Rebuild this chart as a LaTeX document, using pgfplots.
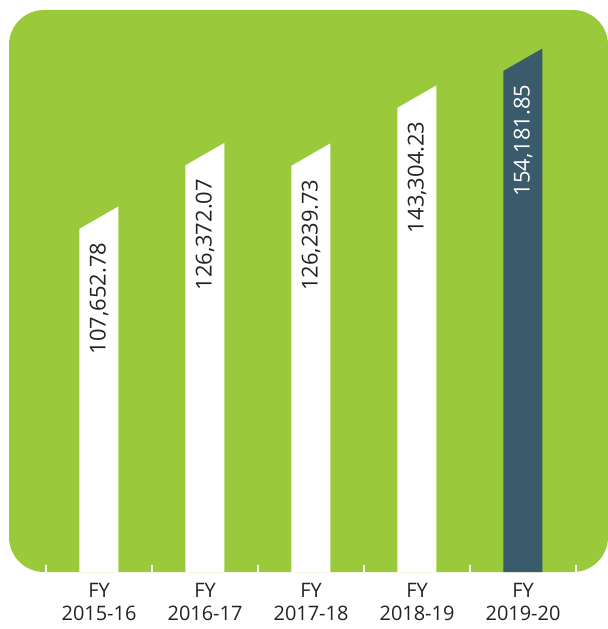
\documentclass[border=0pt]{standalone}
\usepackage{pgfplots}
\pgfplotsset{compat=1.18}
\usepackage{pgfplotstable}
\usepackage{fontspec}
\setmainfont{Open Sans}
\definecolor{pgreen}{HTML}{9BC93C}
\definecolor{pdark}{HTML}{3A5B6B}
\definecolor{ptext}{HTML}{222222}
\pgfplotstableread{
x v label
0 107652.78 107,652.78
1 126372.07 126,372.07
2 126239.73 126,239.73
3 143304.23 143,304.23
}\whitedata
\pgfplotstableread{
x v label
4 154181.85 154,181.85
}\darkdata
\begin{document}
\begin{tikzpicture}
\useasboundingbox (-9bp,-57bp) rectangle (599bp,572bp);
\begin{axis}[
  scale only axis,
  width=599bp, height=562bp,
  at={(0,0)}, anchor=south west,
  xmin=-0.849, xmax=4.802,
  ymin=0, ymax=165500,
  axis on top,
  axis background/.style={fill=pgreen, rounded corners=35bp},
  axis line style={draw=none},
  ytick=\empty,
  xtick={0,1,2,3,4},
  xticklabels={{FY\\2015-16},{FY\\2016-17},{FY\\2017-18},{FY\\2018-19},{FY\\2019-20}},
  xticklabel style={align=center, font=\fontsize{20}{23}\selectfont, text=ptext, yshift=-8bp},
  major tick length=0pt,
  minor xtick={-0.5,0.5,1.5,2.5,3.5,4.5},
  minor tick length=7bp,
  tick align=inside,
  xtick pos=bottom,
  minor tick style={white, line width=1.3bp},
  clip=false,
]
\addplot[fill=white, draw=none] coordinates {(-0.184,0) (-0.184,101052.78) (0.184,107652.78) (0.184,0)} --cycle;
\addplot[fill=white, draw=none] coordinates {(0.816,0) (0.816,119772.07) (1.184,126372.07) (1.184,0)} --cycle;
\addplot[fill=white, draw=none] coordinates {(1.816,0) (1.816,119639.73) (2.184,126239.73) (2.184,0)} --cycle;
\addplot[fill=white, draw=none] coordinates {(2.816,0) (2.816,136704.23) (3.184,143304.23) (3.184,0)} --cycle;
\addplot[fill=pdark, draw=none] coordinates {(3.816,0) (3.816,147581.85) (4.184,154181.85) (4.184,0)} --cycle;
\addplot[draw=none, mark=none, point meta=explicit symbolic, nodes near coords,
  every node near coord/.append style={yshift=-34bp, rotate=90, anchor=east, inner sep=0pt, text=ptext, font=\fontsize{22}{26}\selectfont, xshift=-2bp}]
  table[x=x, y=v, meta=label] {\whitedata};
\addplot[draw=none, mark=none, point meta=explicit symbolic, nodes near coords,
  every node near coord/.append style={yshift=-34bp, rotate=90, anchor=east, inner sep=0pt, text=white, font=\fontsize{22}{26}\selectfont, xshift=-2bp}]
  table[x=x, y=v, meta=label] {\darkdata};
\end{axis}
\end{tikzpicture}
\end{document}
